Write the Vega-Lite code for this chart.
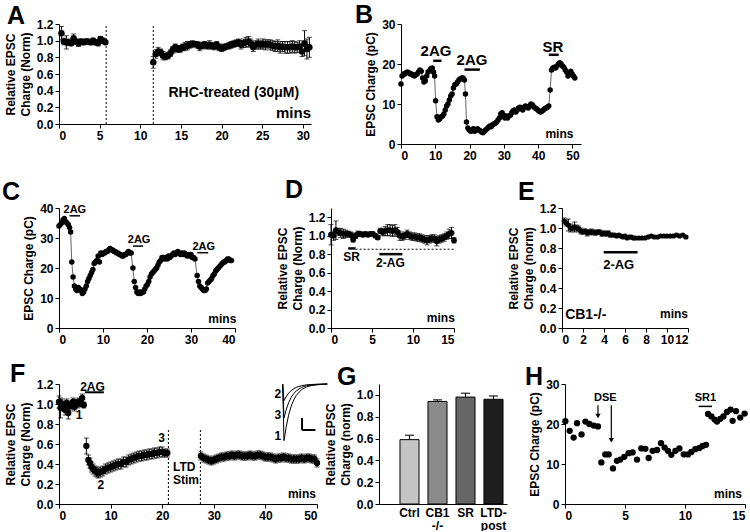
{
"$schema":"https://vega.github.io/schema/vega-lite/v6.json",
"padding":{"left":2,"top":3,"right":0,"bottom":0},
"spacing":0,
"datasets":{
"A":[{"t":0.3,"v":1.09,"e":0.08},{"t":0.6,"v":0.99,"e":0.04},{"t":0.9,"v":0.98,"e":0.08},{"t":1.2,"v":0.98,"e":0.04},{"t":1.5,"v":0.97,"e":0.03},{"t":1.8,"v":1.03,"e":0.05},{"t":2.1,"v":0.99,"e":0.03},{"t":2.4,"v":0.97,"e":0.04},{"t":2.7,"v":0.99,"e":0.03},{"t":3.0,"v":0.98,"e":0.03},{"t":3.3,"v":0.99,"e":0.03},{"t":3.6,"v":0.99,"e":0.02},{"t":3.9,"v":0.98,"e":0.03},{"t":4.2,"v":1.0,"e":0.03},{"t":4.5,"v":0.98,"e":0.03},{"t":4.8,"v":0.97,"e":0.03},{"t":5.1,"v":1.02,"e":0.03},{"t":5.4,"v":1.0,"e":0.03},{"t":5.7,"v":0.98,"e":0.02},
{"t":11.6,"v":0.74,"e":0.07},{"t":11.9,"v":0.84,"e":0.05},{"t":12.2,"v":0.87,"e":0.05},{"t":12.5,"v":0.86,"e":0.04},{"t":12.8,"v":0.82,"e":0.05},{"t":13.1,"v":0.81,"e":0.04},{"t":13.4,"v":0.82,"e":0.04},{"t":13.7,"v":0.85,"e":0.04},{"t":14.0,"v":0.89,"e":0.04},{"t":14.3,"v":0.92,"e":0.04},{"t":14.6,"v":0.9,"e":0.04},{"t":14.9,"v":0.9,"e":0.04},{"t":15.2,"v":0.92,"e":0.04},{"t":15.5,"v":0.93,"e":0.05},{"t":15.8,"v":0.94,"e":0.05},{"t":16.1,"v":0.95,"e":0.04},{"t":16.4,"v":0.96,"e":0.04},{"t":16.7,"v":0.96,"e":0.03},{"t":17.0,"v":0.95,"e":0.04},{"t":17.3,"v":0.93,"e":0.05},{"t":17.6,"v":0.94,"e":0.04},{"t":17.9,"v":0.95,"e":0.04},{"t":18.2,"v":0.94,"e":0.04},{"t":18.5,"v":0.95,"e":0.05},{"t":18.8,"v":0.94,"e":0.04},{"t":19.1,"v":0.93,"e":0.04},{"t":19.4,"v":0.95,"e":0.04},{"t":19.7,"v":0.92,"e":0.04},{"t":20.0,"v":0.91,"e":0.04},{"t":20.3,"v":0.92,"e":0.04},{"t":20.6,"v":0.93,"e":0.03},{"t":20.9,"v":0.94,"e":0.04},{"t":21.2,"v":0.95,"e":0.04},{"t":21.5,"v":0.96,"e":0.04},{"t":21.8,"v":0.97,"e":0.04},{"t":22.1,"v":0.98,"e":0.04},{"t":22.4,"v":0.95,"e":0.05},{"t":22.7,"v":0.97,"e":0.05},{"t":23.0,"v":0.98,"e":0.06},{"t":23.3,"v":0.99,"e":0.06},{"t":23.6,"v":0.97,"e":0.05},{"t":23.9,"v":0.92,"e":0.05},{"t":24.2,"v":0.95,"e":0.05},{"t":24.5,"v":0.96,"e":0.06},{"t":24.8,"v":0.95,"e":0.05},{"t":25.1,"v":0.96,"e":0.06},{"t":25.4,"v":0.95,"e":0.06},{"t":25.7,"v":0.96,"e":0.05},{"t":26.0,"v":0.95,"e":0.06},{"t":26.3,"v":0.94,"e":0.06},{"t":26.6,"v":0.93,"e":0.06},{"t":26.9,"v":0.94,"e":0.07},{"t":27.2,"v":0.92,"e":0.07},{"t":27.5,"v":0.93,"e":0.06},{"t":27.8,"v":0.92,"e":0.07},{"t":28.1,"v":0.92,"e":0.07},{"t":28.4,"v":0.92,"e":0.07},{"t":28.7,"v":0.93,"e":0.07},{"t":29.0,"v":0.92,"e":0.07},{"t":29.3,"v":0.92,"e":0.06},{"t":29.6,"v":0.93,"e":0.07},{"t":29.9,"v":0.87,"e":0.06},{"t":30.2,"v":0.97,"e":0.15},{"t":30.5,"v":0.9,"e":0.12},{"t":30.8,"v":0.92,"e":0.12}],
"B":[{"t":0,"v":15},{"t":0.3,"v":17},{"t":0.7,"v":17.5},{"t":1.1,"v":17.5},{"t":1.5,"v":17.8},{"t":1.9,"v":18},{"t":2.3,"v":17.8},{"t":2.7,"v":17.5},{"t":3.1,"v":17.5},{"t":3.5,"v":17.2},{"t":3.9,"v":17},{"t":4.3,"v":17.3},{"t":4.7,"v":17.5},{"t":5.1,"v":18},{"t":5.5,"v":18.5},{"t":5.9,"v":18.2},{"t":6.3,"v":16.5},{"t":6.7,"v":15.5},{"t":7.1,"v":15.8},{"t":7.5,"v":17},{"t":7.9,"v":18},{"t":8.3,"v":18.3},{"t":8.7,"v":18.8},{"t":9.1,"v":19},{"t":9.5,"v":18},{"t":9.8,"v":17},{"t":10.1,"v":10.8},{"t":10.5,"v":6.8},{"t":10.9,"v":6},{"t":11.3,"v":6.3},{"t":11.7,"v":6.8},{"t":12.1,"v":7},{"t":12.5,"v":7.5},{"t":12.9,"v":8.5},{"t":13.3,"v":9.5},{"t":13.7,"v":10},{"t":14.1,"v":11},{"t":14.5,"v":12},{"t":14.9,"v":12.5},{"t":15.3,"v":14},{"t":15.7,"v":14.8},{"t":16.1,"v":15},{"t":16.5,"v":15.5},{"t":16.9,"v":16},{"t":17.3,"v":16.3},{"t":17.7,"v":16.5},{"t":18.1,"v":16.5},{"t":18.5,"v":16},{"t":18.8,"v":12.5},{"t":19.1,"v":5.5},{"t":19.5,"v":4},{"t":19.9,"v":3.5},{"t":20.3,"v":3.2},{"t":20.7,"v":3.3},{"t":21.1,"v":3.8},{"t":21.5,"v":3.2},{"t":21.9,"v":3.5},{"t":22.3,"v":3.8},{"t":22.7,"v":3.5},{"t":23.1,"v":3.3},{"t":23.5,"v":3},{"t":23.9,"v":2.8},{"t":24.3,"v":3.2},{"t":24.7,"v":3.5},{"t":25.1,"v":3.8},{"t":25.5,"v":4.2},{"t":25.9,"v":4.5},{"t":26.3,"v":4.3},{"t":26.7,"v":4.8},{"t":27.1,"v":5},{"t":27.5,"v":5.2},{"t":27.9,"v":5.5},{"t":28.3,"v":6},{"t":28.7,"v":6.5},{"t":29.1,"v":7.5},{"t":29.5,"v":7.8},{"t":29.9,"v":7.2},{"t":30.3,"v":6.5},{"t":30.7,"v":7},{"t":31.1,"v":6.5},{"t":31.5,"v":7},{"t":31.9,"v":7.2},{"t":32.3,"v":7.8},{"t":32.7,"v":8.3},{"t":33.1,"v":8.5},{"t":33.5,"v":8},{"t":33.9,"v":8.5},{"t":34.3,"v":9},{"t":34.7,"v":9.2},{"t":35.1,"v":9},{"t":35.5,"v":8.5},{"t":35.9,"v":9.2},{"t":36.3,"v":9.5},{"t":36.7,"v":9.3},{"t":37.1,"v":9},{"t":37.5,"v":9.5},{"t":37.9,"v":10},{"t":38.3,"v":9.8},{"t":38.7,"v":9.3},{"t":39.1,"v":9},{"t":39.5,"v":8.8},{"t":39.9,"v":8.5},{"t":40.3,"v":8.2},{"t":40.7,"v":8},{"t":41.1,"v":8.2},{"t":41.5,"v":8.5},{"t":41.9,"v":8.8},{"t":42.3,"v":9},{"t":42.7,"v":9.2},{"t":43.1,"v":9.5},{"t":43.5,"v":13.5},{"t":43.9,"v":18.5},{"t":44.3,"v":19},{"t":44.7,"v":19.2},{"t":45.1,"v":19},{"t":45.5,"v":19.5},{"t":45.9,"v":20},{"t":46.3,"v":20.3},{"t":46.7,"v":20},{"t":47.1,"v":19.5},{"t":47.5,"v":19.2},{"t":47.9,"v":18.5},{"t":48.3,"v":18},{"t":48.7,"v":17},{"t":49.1,"v":17.5},{"t":49.5,"v":18.2},{"t":49.9,"v":17.5},{"t":50.3,"v":17},{"t":50.7,"v":16.5}],
"C":[{"t":0,"v":34},{"t":0.3,"v":34.5},{"t":0.6,"v":35},{"t":0.9,"v":36},{"t":1.2,"v":36.5},{"t":1.5,"v":35.5},{"t":1.8,"v":35},{"t":2.1,"v":34.5},{"t":2.4,"v":33.5},{"t":2.65,"v":32},{"t":2.9,"v":22},{"t":3.2,"v":17},{"t":3.5,"v":14},{"t":3.8,"v":13},{"t":4.1,"v":12.5},{"t":4.4,"v":13.5},{"t":4.7,"v":13},{"t":5.0,"v":12.5},{"t":5.3,"v":11.5},{"t":5.6,"v":12},{"t":5.9,"v":13},{"t":6.2,"v":14},{"t":6.5,"v":15.5},{"t":6.8,"v":16.5},{"t":7.1,"v":17.5},{"t":7.4,"v":18.5},{"t":7.7,"v":19.5},{"t":8.0,"v":21.5},{"t":8.3,"v":22},{"t":8.6,"v":22.5},{"t":8.9,"v":24},{"t":9.2,"v":22},{"t":9.5,"v":25},{"t":9.8,"v":24.5},{"t":10.1,"v":25},{"t":10.4,"v":25},{"t":10.7,"v":25.5},{"t":11.0,"v":25.5},{"t":11.3,"v":26},{"t":11.6,"v":26.5},{"t":11.9,"v":26},{"t":12.2,"v":26},{"t":12.5,"v":25.5},{"t":12.8,"v":25.5},{"t":13.1,"v":25},{"t":13.4,"v":25},{"t":13.7,"v":24.5},{"t":14.0,"v":24.5},{"t":14.3,"v":24},{"t":14.6,"v":24},{"t":14.9,"v":24.5},{"t":15.2,"v":24.5},{"t":15.5,"v":25},{"t":15.8,"v":25.5},{"t":16.1,"v":25},{"t":16.4,"v":25},{"t":16.8,"v":20},{"t":17.1,"v":15.5},{"t":17.4,"v":13.5},{"t":17.7,"v":12},{"t":18.0,"v":11.5},{"t":18.3,"v":12},{"t":18.6,"v":11.5},{"t":18.9,"v":12},{"t":19.2,"v":12},{"t":19.5,"v":13},{"t":19.8,"v":14},{"t":20.1,"v":14.5},{"t":20.4,"v":15.5},{"t":20.7,"v":17},{"t":21.0,"v":18},{"t":21.3,"v":18.5},{"t":21.6,"v":19},{"t":21.9,"v":19.5},{"t":22.2,"v":20},{"t":22.5,"v":21},{"t":22.8,"v":22},{"t":23.1,"v":22.5},{"t":23.4,"v":23.5},{"t":23.7,"v":23.5},{"t":24.0,"v":23},{"t":24.3,"v":23.5},{"t":24.6,"v":23},{"t":24.9,"v":24},{"t":25.2,"v":23.5},{"t":25.5,"v":24},{"t":25.8,"v":24.5},{"t":26.1,"v":25},{"t":26.4,"v":24.5},{"t":26.7,"v":25},{"t":27.0,"v":25.5},{"t":27.3,"v":25},{"t":27.6,"v":24.5},{"t":27.9,"v":25},{"t":28.2,"v":24.5},{"t":28.5,"v":25},{"t":28.8,"v":24.5},{"t":29.1,"v":24},{"t":29.4,"v":24.5},{"t":29.7,"v":24},{"t":30.0,"v":24.5},{"t":30.3,"v":23.5},{"t":30.6,"v":23.5},{"t":30.9,"v":23},{"t":31.4,"v":17.5},{"t":31.7,"v":15.5},{"t":32.0,"v":14},{"t":32.3,"v":13.5},{"t":32.6,"v":13},{"t":32.9,"v":12.5},{"t":33.2,"v":12.5},{"t":33.5,"v":13},{"t":33.8,"v":15},{"t":34.1,"v":15.5},{"t":34.4,"v":16},{"t":34.7,"v":16.5},{"t":35.0,"v":17.5},{"t":35.3,"v":18},{"t":35.6,"v":19},{"t":35.9,"v":19.5},{"t":36.2,"v":20},{"t":36.5,"v":20.5},{"t":36.8,"v":21},{"t":37.1,"v":21.5},{"t":37.4,"v":22},{"t":37.7,"v":22},{"t":38.0,"v":22.5},{"t":38.3,"v":23},{"t":38.6,"v":23},{"t":38.9,"v":22.5},{"t":39.2,"v":22.5}],
"D":[{"t":0,"v":1.01,"e":0.11},{"t":0.3,"v":1.0,"e":0.05},{"t":0.6,"v":1.06,"e":0.1},{"t":0.9,"v":1.04,"e":0.04},{"t":1.2,"v":1.03,"e":0.05},{"t":1.5,"v":1.02,"e":0.05},{"t":1.8,"v":1.02,"e":0.04},{"t":2.1,"v":1.02,"e":0.03},{"t":2.4,"v":1.01,"e":0.03},{"t":2.7,"v":0.96,"e":0.03},{"t":3.0,"v":1.0,"e":0.03},{"t":3.3,"v":1.02,"e":0.03},{"t":3.6,"v":1.02,"e":0.02},{"t":3.9,"v":1.01,"e":0.02},{"t":4.2,"v":1.02,"e":0.02},{"t":4.5,"v":1.01,"e":0.02},{"t":4.8,"v":1.02,"e":0.02},{"t":5.1,"v":1.02,"e":0.02},{"t":5.4,"v":1.0,"e":0.02},{"t":5.7,"v":0.98,"e":0.02},{"t":6.0,"v":1.05,"e":0.03},{"t":6.3,"v":1.04,"e":0.04},{"t":6.6,"v":1.05,"e":0.05},{"t":6.9,"v":1.06,"e":0.06},{"t":7.2,"v":1.06,"e":0.06},{"t":7.5,"v":1.05,"e":0.06},{"t":7.8,"v":1.06,"e":0.06},{"t":8.1,"v":1.04,"e":0.05},{"t":8.4,"v":1.0,"e":0.05},{"t":8.7,"v":0.99,"e":0.04},{"t":9.0,"v":1.0,"e":0.04},{"t":9.3,"v":1.02,"e":0.04},{"t":9.6,"v":1.0,"e":0.04},{"t":9.9,"v":0.99,"e":0.04},{"t":10.2,"v":0.99,"e":0.04},{"t":10.5,"v":0.98,"e":0.04},{"t":10.8,"v":0.98,"e":0.04},{"t":11.1,"v":0.97,"e":0.04},{"t":11.4,"v":0.96,"e":0.04},{"t":11.7,"v":0.95,"e":0.05},{"t":12.0,"v":0.96,"e":0.04},{"t":12.3,"v":0.97,"e":0.04},{"t":12.6,"v":0.97,"e":0.04},{"t":12.9,"v":0.94,"e":0.05},{"t":13.2,"v":0.96,"e":0.04},{"t":13.5,"v":0.97,"e":0.04},{"t":13.8,"v":0.98,"e":0.04},{"t":14.1,"v":1.0,"e":0.04},{"t":14.4,"v":1.02,"e":0.05},{"t":14.7,"v":1.03,"e":0.06},{"t":15.0,"v":0.95,"e":0.03}],
"E":[{"t":0.2,"v":1.07,"e":0.03},{"t":0.4,"v":1.05,"e":0.03},{"t":0.6,"v":1.03,"e":0.06},{"t":0.8,"v":1.0,"e":0.04},{"t":1.0,"v":1.0,"e":0.03},{"t":1.2,"v":1.01,"e":0.05},{"t":1.4,"v":1.0,"e":0.03},{"t":1.6,"v":0.99,"e":0.03},{"t":1.8,"v":0.97,"e":0.03},{"t":2.0,"v":0.96,"e":0.02},{"t":2.2,"v":0.97,"e":0.02},{"t":2.4,"v":0.95,"e":0.03},{"t":2.6,"v":0.96,"e":0.02},{"t":2.8,"v":0.96,"e":0.03},{"t":3.0,"v":0.96,"e":0.02},{"t":3.2,"v":0.95,"e":0.02},{"t":3.4,"v":0.96,"e":0.02},{"t":3.6,"v":0.96,"e":0.02},{"t":3.8,"v":0.94,"e":0.02},{"t":4.0,"v":0.95,"e":0.02},{"t":4.2,"v":0.94,"e":0.02},{"t":4.4,"v":0.95,"e":0.02},{"t":4.6,"v":0.93,"e":0.02},{"t":4.8,"v":0.93,"e":0.01},{"t":5.0,"v":0.93,"e":0.01},{"t":5.2,"v":0.92,"e":0.01},{"t":5.4,"v":0.93,"e":0.01},{"t":5.6,"v":0.92,"e":0.01},{"t":5.8,"v":0.91,"e":0.01},{"t":6.0,"v":0.92,"e":0.01},{"t":6.2,"v":0.9,"e":0.01},{"t":6.4,"v":0.91,"e":0.01},{"t":6.6,"v":0.91,"e":0.01},{"t":6.8,"v":0.9,"e":0.01},{"t":7.0,"v":0.9,"e":0.01},{"t":7.3,"v":0.9,"e":0.01},{"t":7.6,"v":0.9,"e":0.01},{"t":7.9,"v":0.9,"e":0.01},{"t":8.2,"v":0.91,"e":0.01},{"t":8.5,"v":0.92,"e":0.01},{"t":8.8,"v":0.91,"e":0.01},{"t":9.1,"v":0.91,"e":0.01},{"t":9.4,"v":0.92,"e":0.01},{"t":9.7,"v":0.92,"e":0.01},{"t":10.0,"v":0.92,"e":0.01},{"t":10.3,"v":0.92,"e":0.01},{"t":10.6,"v":0.92,"e":0.01},{"t":10.9,"v":0.93,"e":0.01},{"t":11.2,"v":0.92,"e":0.01},{"t":11.5,"v":0.93,"e":0.01},{"t":11.8,"v":0.91,"e":0.01}],
"F":[{"t":0.0,"v":1.02,"e":0.06},{"t":0.3,"v":0.96,"e":0.1},{"t":0.6,"v":1.0,"e":0.05},{"t":0.9,"v":0.98,"e":0.05},{"t":1.2,"v":0.94,"e":0.05},{"t":1.5,"v":1.01,"e":0.04},{"t":1.8,"v":0.91,"e":0.06},{"t":2.1,"v":0.98,"e":0.04},{"t":2.4,"v":0.99,"e":0.04},{"t":2.7,"v":1.02,"e":0.04},{"t":3.0,"v":0.97,"e":0.04},{"t":3.3,"v":1.01,"e":0.04},{"t":3.6,"v":1.0,"e":0.04},{"t":3.9,"v":1.02,"e":0.04},{"t":4.2,"v":1.01,"e":0.04},{"t":4.5,"v":1.06,"e":0.04},{"t":4.8,"v":0.99,"e":0.03},{"t":5.3,"v":0.58,"e":0.08},{"t":5.7,"v":0.44,"e":0.05},{"t":6.0,"v":0.41,"e":0.05},{"t":6.3,"v":0.37,"e":0.05},{"t":6.6,"v":0.35,"e":0.05},{"t":7.0,"v":0.33,"e":0.05},{"t":7.3,"v":0.32,"e":0.05},{"t":7.6,"v":0.31,"e":0.05},{"t":8.0,"v":0.32,"e":0.05},{"t":8.5,"v":0.33,"e":0.05},{"t":9.0,"v":0.35,"e":0.05},{"t":9.5,"v":0.36,"e":0.05},{"t":10.0,"v":0.37,"e":0.05},{"t":10.5,"v":0.38,"e":0.05},{"t":11.0,"v":0.39,"e":0.05},{"t":11.5,"v":0.4,"e":0.05},{"t":12.0,"v":0.4,"e":0.05},{"t":12.5,"v":0.42,"e":0.05},{"t":13.0,"v":0.42,"e":0.05},{"t":13.5,"v":0.44,"e":0.05},{"t":14.0,"v":0.45,"e":0.05},{"t":14.5,"v":0.46,"e":0.05},{"t":15.0,"v":0.47,"e":0.05},{"t":15.5,"v":0.48,"e":0.05},{"t":16.0,"v":0.48,"e":0.05},{"t":16.5,"v":0.49,"e":0.05},{"t":17.0,"v":0.49,"e":0.05},{"t":17.5,"v":0.5,"e":0.05},{"t":18.0,"v":0.5,"e":0.05},{"t":18.5,"v":0.51,"e":0.05},{"t":19.0,"v":0.51,"e":0.05},{"t":19.5,"v":0.52,"e":0.05},{"t":20.0,"v":0.52,"e":0.05},{"t":20.5,"v":0.51,"e":0.04},{"t":21.0,"v":0.51,"e":0.04},
{"t":27.5,"v":0.48,"e":0.04},{"t":28.0,"v":0.46,"e":0.04},{"t":28.5,"v":0.45,"e":0.04},{"t":29.0,"v":0.44,"e":0.04},{"t":29.5,"v":0.43,"e":0.04},{"t":30.0,"v":0.44,"e":0.04},{"t":30.5,"v":0.45,"e":0.04},{"t":31.0,"v":0.46,"e":0.04},{"t":31.5,"v":0.47,"e":0.04},{"t":32.0,"v":0.47,"e":0.04},{"t":32.5,"v":0.48,"e":0.04},{"t":33.0,"v":0.48,"e":0.04},{"t":33.5,"v":0.49,"e":0.04},{"t":34.0,"v":0.48,"e":0.04},{"t":34.5,"v":0.49,"e":0.04},{"t":35.0,"v":0.49,"e":0.04},{"t":35.5,"v":0.48,"e":0.04},{"t":36.0,"v":0.48,"e":0.04},{"t":36.5,"v":0.48,"e":0.04},{"t":37.0,"v":0.49,"e":0.04},{"t":37.5,"v":0.48,"e":0.04},{"t":38.0,"v":0.48,"e":0.04},{"t":38.5,"v":0.49,"e":0.04},{"t":39.0,"v":0.49,"e":0.04},{"t":39.5,"v":0.48,"e":0.04},{"t":40.0,"v":0.47,"e":0.04},{"t":40.5,"v":0.47,"e":0.04},{"t":41.0,"v":0.47,"e":0.04},{"t":41.5,"v":0.46,"e":0.04},{"t":42.0,"v":0.45,"e":0.04},{"t":42.5,"v":0.46,"e":0.04},{"t":43.0,"v":0.46,"e":0.04},{"t":43.5,"v":0.47,"e":0.04},{"t":44.0,"v":0.46,"e":0.04},{"t":44.5,"v":0.46,"e":0.04},{"t":45.0,"v":0.45,"e":0.04},{"t":45.5,"v":0.45,"e":0.04},{"t":46.0,"v":0.45,"e":0.04},{"t":46.5,"v":0.45,"e":0.04},{"t":47.0,"v":0.46,"e":0.04},{"t":47.5,"v":0.45,"e":0.04},{"t":48.0,"v":0.46,"e":0.04},{"t":48.5,"v":0.46,"e":0.04},{"t":49.0,"v":0.45,"e":0.04},{"t":49.5,"v":0.45,"e":0.04},{"t":50.0,"v":0.41,"e":0.04}],
"Ftr":[{"tr":"1","t":43.35,"v":1.2},{"tr":"1","t":43.6,"v":0.633},{"tr":"1","t":44.0,"v":0.763},{"tr":"1","t":44.5,"v":0.888},{"tr":"1","t":45.0,"v":0.979},{"tr":"1","t":45.5,"v":1.041},{"tr":"1","t":46.0,"v":1.087},{"tr":"1","t":47.0,"v":1.143},{"tr":"1","t":48.0,"v":1.172},{"tr":"1","t":49.0,"v":1.185},{"tr":"1","t":50.0,"v":1.192},{"tr":"1","t":51.0,"v":1.196},{"tr":"1","t":52.0,"v":1.2},
{"tr":"3","t":43.35,"v":1.2},{"tr":"3","t":43.6,"v":0.86},{"tr":"3","t":44.0,"v":0.938},{"tr":"3","t":44.5,"v":1.013},{"tr":"3","t":45.0,"v":1.067},{"tr":"3","t":45.5,"v":1.105},{"tr":"3","t":46.0,"v":1.132},{"tr":"3","t":47.0,"v":1.166},{"tr":"3","t":48.0,"v":1.183},{"tr":"3","t":49.0,"v":1.191},{"tr":"3","t":50.0,"v":1.195},{"tr":"3","t":51.0,"v":1.198},{"tr":"3","t":52.0,"v":1.2},
{"tr":"2","t":43.35,"v":1.2},{"tr":"2","t":43.6,"v":1.033},{"tr":"2","t":44.0,"v":1.071},{"tr":"2","t":44.5,"v":1.108},{"tr":"2","t":45.0,"v":1.135},{"tr":"2","t":45.5,"v":1.153},{"tr":"2","t":46.0,"v":1.167},{"tr":"2","t":47.0,"v":1.183},{"tr":"2","t":48.0,"v":1.192},{"tr":"2","t":49.0,"v":1.195},{"tr":"2","t":50.0,"v":1.198},{"tr":"2","t":51.0,"v":1.199},{"tr":"2","t":52.0,"v":1.2}],
"G":[{"cat":"Ctrl","v":0.59,"hi":0.63},{"cat":"CB1 -/-","v":0.94,"hi":0.955},{"cat":"SR","v":0.98,"hi":1.015},{"cat":"LTD- post","v":0.96,"hi":0.99}],
"H":[{"t":0.03,"v":20.7},{"t":0.39,"v":18.3},{"t":0.72,"v":16.6},{"t":1.0,"v":20.2},{"t":1.38,"v":17.4},{"t":1.7,"v":20.6},{"t":2.03,"v":20},{"t":2.4,"v":19.6},{"t":2.75,"v":19.4},{"t":3.03,"v":10.4},{"t":3.36,"v":12.4},{"t":3.64,"v":12.4},{"t":4.0,"v":8.9},{"t":4.33,"v":10.8},{"t":4.6,"v":11.1},{"t":4.94,"v":11.8},{"t":5.3,"v":12.7},{"t":5.64,"v":12.9},{"t":6.0,"v":11.1},{"t":6.36,"v":13.9},{"t":6.7,"v":13.8},{"t":6.97,"v":11.5},{"t":7.3,"v":13.3},{"t":7.67,"v":13.5},{"t":8.0,"v":15.2},{"t":8.3,"v":14.1},{"t":8.58,"v":13.3},{"t":8.86,"v":12.3},{"t":9.2,"v":13.3},{"t":9.53,"v":13.9},{"t":9.9,"v":12.4},{"t":10.25,"v":12.4},{"t":10.53,"v":13},{"t":10.86,"v":13.7},{"t":11.2,"v":14},{"t":11.47,"v":14.5},{"t":11.75,"v":14.8},{"t":11.92,"v":22.5},{"t":12.2,"v":21.9},{"t":12.47,"v":21.1},{"t":12.67,"v":20.6},{"t":12.94,"v":21.3},{"t":13.2,"v":21.9},{"t":13.5,"v":23},{"t":13.8,"v":23.6},{"t":13.97,"v":20.8},{"t":14.25,"v":23.2},{"t":14.6,"v":21.6},{"t":14.97,"v":22.6}]
},
"vconcat":[
{"hconcat":[
 {"width":252,"height":100,
  "title":{"text":"A","dx":-52,"dy":13},
  "encoding":{"x":{"field":"t","type":"quantitative","scale":{"domain":[0,31],"nice":false},"axis":{"title":null,"values":[0,5,10,15,20,25,30]}},
   "y":{"field":"v","type":"quantitative","scale":{"domain":[0,1.2],"nice":false},"axis":{"title":["Relative EPSC","Charge (Norm)"],"values":[0,0.2,0.4,0.6,0.8,1,1.2],"format":".1f"}}},
  "layer":[
   {"data":{"values":[{"t":5.8,"v":0,"v2":1.2},{"t":11.6,"v":0,"v2":1.2}]},"mark":{"type":"rule","strokeDash":[2,2],"color":"black"},"encoding":{"y2":{"field":"v2"}}},
   {"data":{"name":"A"},"mark":{"type":"errorbar","ticks":true,"color":"black"},"encoding":{"yError":{"field":"e"}}},
   {"data":{"name":"A"},"mark":{"type":"circle","color":"black","size":42,"opacity":1}},
   {"data":{"values":[{"t":21.5,"v":0.37,"s":"RHC-treated (30μM)"}]},"mark":{"type":"text","fontSize":14},"encoding":{"text":{"field":"s"}}},
   {"data":{"values":[{"t":31,"v":0.04,"s":"mins"}]},"mark":{"type":"text","fontSize":15,"align":"right","baseline":"bottom"},"encoding":{"text":{"field":"s"}}}
  ]},
 {"width":180,"height":120,
  "title":{"text":"B","dx":-46,"dy":12},
  "encoding":{"x":{"field":"t","type":"quantitative","scale":{"domain":[0,52.5],"nice":false},"axis":{"title":null,"values":[0,10,20,30,40,50]}},
   "y":{"field":"v","type":"quantitative","scale":{"domain":[0,30],"nice":false},"axis":{"title":"EPSC Charge (pC)","values":[0,10,20,30]}}},
  "layer":[
   {"data":{"name":"B"},"mark":{"type":"line","color":"#666666","strokeWidth":1}},
   {"data":{"name":"B"},"mark":{"type":"circle","color":"black","size":30,"opacity":1}},
   {"data":{"values":[{"t":9.4,"t2":11.8,"v":20.8},{"t":18.5,"t2":23,"v":18.6},{"t":43.1,"t2":46,"v":22.3}]},"mark":{"type":"rule","color":"black","strokeWidth":2.5},"encoding":{"x2":{"field":"t2"}}},
   {"data":{"values":[{"t":10.2,"v":23.3,"s":"2AG"},{"t":20.7,"v":21,"s":"2AG"},{"t":44.3,"v":24.2,"s":"SR"}]},"mark":{"type":"text","fontSize":15},"encoding":{"text":{"field":"s"}}},
   {"data":{"values":[{"t":50.3,"v":0.8,"s":"mins"}]},"mark":{"type":"text","fontSize":12,"align":"right","baseline":"bottom"},"encoding":{"text":{"field":"s"}}}
  ]}
 ],"spacing":90,"bounds":"flush"},
{"width":10,"height":17,"data":{"values":[]},"mark":"point","encoding":{}},
{"hconcat":[
  {"width":176,"height":120,
   "title":{"text":"C","dx":-57,"dy":5},
   "encoding":{"x":{"field":"t","type":"quantitative","scale":{"domain":[0,40],"nice":false},"axis":{"title":null,"values":[0,10,20,30,40]}},
    "y":{"field":"v","type":"quantitative","scale":{"domain":[0,40],"nice":false},"axis":{"title":"EPSC Charge (pC)","values":[0,10,20,30,40]}}},
   "layer":[
    {"data":{"name":"C"},"mark":{"type":"line","color":"#666666","strokeWidth":1}},
    {"data":{"name":"C"},"mark":{"type":"circle","color":"black","size":30,"opacity":1}},
    {"data":{"values":[{"t":2.4,"t2":4.8,"v":37.4},{"t":16.8,"t2":19.1,"v":27.3},{"t":31.4,"t2":33.9,"v":25.1}]},"mark":{"type":"rule","color":"black","strokeWidth":1.5},"encoding":{"x2":{"field":"t2"}}},
    {"data":{"values":[{"t":3.6,"v":39.4,"s":"2AG"},{"t":18.2,"v":29.3,"s":"2AG"},{"t":32.9,"v":27.1,"s":"2AG"}]},"mark":{"type":"text","fontSize":11},"encoding":{"text":{"field":"s"}}},
    {"data":{"values":[{"t":40.3,"v":0.8,"s":"mins"}]},"mark":{"type":"text","fontSize":12,"align":"right","baseline":"bottom"},"encoding":{"text":{"field":"s"}}}
   ]},
  {"width":96,"height":1,"data":{"values":[]},"mark":"point","encoding":{}},
  {"width":123,"height":120,
    "title":{"text":"D","dx":-46,"dy":-3},
    "encoding":{"x":{"field":"t","type":"quantitative","scale":{"domain":[0,15],"nice":false},"axis":{"title":null,"values":[0,5,10,15]}},
     "y":{"field":"v","type":"quantitative","scale":{"domain":[0,1.3],"nice":false},"axis":{"title":["Relative EPSC","Charge (Norm)"],"values":[0,0.2,0.4,0.6,0.8,1,1.2],"format":".1f"}}},
    "layer":[
     {"data":{"values":[{"t":3.0,"t2":15,"v":0.853}]},"mark":{"type":"rule","color":"black","strokeDash":[2,2]},"encoding":{"x2":{"field":"t2"}}},
     {"data":{"values":[{"t":2.1,"t2":3.0,"v":0.862},{"t":5.9,"t2":8.7,"v":0.8}]},"mark":{"type":"rule","color":"black","strokeWidth":2.5},"encoding":{"x2":{"field":"t2"}}},
     {"data":{"name":"D"},"mark":{"type":"errorbar","ticks":true,"color":"black"},"encoding":{"yError":{"field":"e"}}},
     {"data":{"name":"D"},"mark":{"type":"circle","color":"black","size":34,"opacity":1}},
     {"data":{"values":[{"t":2.5,"v":0.77,"s":"SR"},{"t":7.25,"v":0.7,"s":"2-AG"}]},"mark":{"type":"text","fontSize":12},"encoding":{"text":{"field":"s"}}},
     {"data":{"values":[{"t":15.1,"v":0.03,"s":"mins"}]},"mark":{"type":"text","fontSize":12,"align":"right","baseline":"bottom"},"encoding":{"text":{"field":"s"}}}
    ]},
  {"width":108,"height":1,"data":{"values":[]},"mark":"point","encoding":{}},
  {"width":126,"height":120,
    "title":{"text":"E","dx":-44,"dy":5},
    "encoding":{"x":{"field":"t","type":"quantitative","scale":{"domain":[0,12],"nice":false},"axis":{"title":null,"values":[0,2,4,6,8,10,12]}},
     "y":{"field":"v","type":"quantitative","scale":{"domain":[0,1.2],"nice":false},"axis":{"title":["Relative EPSC","Charge (norm)"],"values":[0,0.2,0.4,0.6,0.8,1,1.2],"format":".1f"}}},
    "layer":[
     {"data":{"values":[{"t":3.97,"t2":7.2,"v":0.757}]},"mark":{"type":"rule","color":"black","strokeWidth":2.5},"encoding":{"x2":{"field":"t2"}}},
     {"data":{"name":"E"},"mark":{"type":"errorbar","ticks":true,"color":"black"},"encoding":{"yError":{"field":"e"}}},
     {"data":{"name":"E"},"mark":{"type":"circle","color":"black","size":26,"opacity":1}},
     {"data":{"values":[{"t":5.4,"v":0.63,"s":"2-AG"}]},"mark":{"type":"text","fontSize":13},"encoding":{"text":{"field":"s"}}},
     {"data":{"values":[{"t":0.3,"v":0.13,"s":"CB1-/-"}]},"mark":{"type":"text","fontSize":14,"align":"left"},"encoding":{"text":{"field":"s"}}},
     {"data":{"values":[{"t":12,"v":0.07,"s":"mins"}]},"mark":{"type":"text","fontSize":12,"align":"right","baseline":"bottom"},"encoding":{"text":{"field":"s"}}}
    ]}
 ],"spacing":0,"bounds":"flush"},
{"width":10,"height":17,"data":{"values":[]},"mark":"point","encoding":{}},
{"hconcat":[
  {"width":258,"height":120,
   "title":{"text":"F","dx":-49,"dy":11},
   "encoding":{"x":{"field":"t","type":"quantitative","scale":{"domain":[0,50],"nice":false},"axis":{"title":null,"values":[0,10,20,30,40,50]}},
    "y":{"field":"v","type":"quantitative","scale":{"domain":[0,1.2],"nice":false},"axis":{"title":["Relative EPSC","Charge (Norm)"],"values":[0,0.2,0.4,0.6,0.8,1,1.2],"format":".1f"}}},
   "layer":[
    {"data":{"values":[{"t":21.2,"v":0,"v2":0.74},{"t":27.4,"v":0,"v2":0.74}]},"mark":{"type":"rule","strokeDash":[2,2],"color":"black"},"encoding":{"y2":{"field":"v2"}}},
    {"data":{"values":[{"t":5.0,"t2":8.7,"v":1.117},{"t":47.1,"t2":49.7,"v":0.74}]},"mark":{"type":"rule","color":"black","strokeWidth":2},"encoding":{"x2":{"field":"t2"}}},
    {"data":{"values":[{"t":47.1,"v":0.74,"v2":0.86}]},"mark":{"type":"rule","color":"black","strokeWidth":2},"encoding":{"y2":{"field":"v2"}}},
    {"data":{"name":"Ftr"},"mark":{"type":"line","color":"black","strokeWidth":1},"encoding":{"detail":{"field":"tr"}}},
    {"data":{"name":"F"},"mark":{"type":"errorbar","ticks":true,"color":"black"},"encoding":{"yError":{"field":"e"}}},
    {"data":{"name":"F"},"mark":{"type":"circle","color":"black","size":40,"opacity":1}},
    {"data":{"values":[{"t":6.5,"v":1.17,"s":"2AG"},{"t":3.9,"v":0.893,"s":"1"},{"t":8.1,"v":0.193,"s":"2"},{"t":19.9,"v":0.66,"s":"3"},{"t":42.4,"v":1.1,"s":"2"},{"t":42.4,"v":0.893,"s":"3"},{"t":42.4,"v":0.683,"s":"1"}]},"mark":{"type":"text","fontSize":12},"encoding":{"text":{"field":"s"}}},
    {"data":{"values":[{"t":22.1,"v":0.367,"s":"LTD"},{"t":22.1,"v":0.24,"s":"Stim"}]},"mark":{"type":"text","fontSize":12,"align":"left"},"encoding":{"text":{"field":"s"}}},
    {"data":{"values":[{"t":49.8,"v":0.03,"s":"mins"}]},"mark":{"type":"text","fontSize":12,"align":"right","baseline":"bottom"},"encoding":{"text":{"field":"s"}}}
   ]},
  {"width":62,"height":1,"data":{"values":[]},"mark":"point","encoding":{}},
  {"width":128,"height":120,
    "title":{"text":"G","dx":-42,"dy":8},
    "data":{"name":"G"},
    "encoding":{"x":{"field":"cat","type":"nominal","sort":null,"scale":{"paddingInner":0.32,"paddingOuter":0.446,"align":0.84},"axis":{"title":null,"ticks":false,"labelAngle":0,"labelExpr":"split(datum.label, ' ')","labelPadding":3,"labelLineHeight":13}},
     "y":{"field":"v","type":"quantitative","scale":{"domain":[0,1.1],"nice":false},"axis":{"title":["Relative EPSC","Charge (norm)"],"values":[0,0.2,0.4,0.6,0.8,1],"format":".1f"}}},
    "layer":[
     {"mark":{"type":"bar","stroke":"black","strokeWidth":1},"encoding":{"color":{"field":"cat","type":"nominal","legend":null,"scale":{"domain":["Ctrl","CB1 -/-","SR","LTD- post"],"range":["#c4c4c4","#8a8a8a","#666666","#1e1e1e"]}}}},
     {"mark":{"type":"rule","color":"black"},"encoding":{"y2":{"field":"hi"}}},
     {"mark":{"type":"tick","color":"black","thickness":1.5,"size":9},"encoding":{"y":{"field":"hi","type":"quantitative"}}}
    ]},
  {"width":58,"height":1,"data":{"values":[]},"mark":"point","encoding":{}},
  {"width":180,"height":120,
    "title":{"text":"H","dx":-40,"dy":14},
    "encoding":{"x":{"field":"t","type":"quantitative","scale":{"domain":[0,15],"nice":false},"axis":{"title":null,"values":[0,5,10,15]}},
     "y":{"field":"v","type":"quantitative","scale":{"domain":[0,30],"nice":false},"axis":{"title":"EPSC Charge (pC)","values":[0,10,20,30]}}},
    "layer":[
     {"data":{"name":"H"},"mark":{"type":"circle","color":"black","size":40,"opacity":1}},
     {"data":{"values":[{"t":2.75,"v":21.8,"v2":24.7},{"t":3.86,"v":15.8,"v2":24.7}]},"mark":{"type":"rule","color":"black","strokeWidth":1.2},"encoding":{"y2":{"field":"v2"}}},
     {"data":{"values":[{"t":2.75,"v":22.0},{"t":3.86,"v":15.95}]},"mark":{"type":"point","shape":"triangle-down","filled":true,"color":"black","size":28,"opacity":1}},
     {"data":{"values":[{"t":11.14,"t2":12.25,"v":24.4}]},"mark":{"type":"rule","color":"black","strokeWidth":1.5},"encoding":{"x2":{"field":"t2"}}},
     {"data":{"values":[{"t":3.36,"v":26.4,"s":"DSE"},{"t":11.7,"v":26.4,"s":"SR1"}]},"mark":{"type":"text","fontSize":11},"encoding":{"text":{"field":"s"}}},
     {"data":{"values":[{"t":14.75,"v":0.8,"s":"mins"}]},"mark":{"type":"text","fontSize":12,"align":"right","baseline":"bottom"},"encoding":{"text":{"field":"s"}}}
    ]}
 ],"spacing":0,"bounds":"flush"}
],
"config":{
 "view":{"stroke":null},
 "font":"Liberation Sans",
 "axis":{"grid":false,"domainColor":"black","tickColor":"black","labelColor":"black","titleColor":"black","labelFont":"Liberation Sans","titleFont":"Liberation Sans","labelFontWeight":"bold","titleFontWeight":"bold","labelFontSize":12,"titleFontSize":12,"tickSize":4,"labelPadding":2,"titleLineHeight":15},
 "text":{"font":"Liberation Sans","fontWeight":"bold","color":"black"},
 "title":{"anchor":"start","frame":"group","fontSize":25,"font":"Liberation Sans","fontWeight":"bold","color":"black","offset":2}
}
}
